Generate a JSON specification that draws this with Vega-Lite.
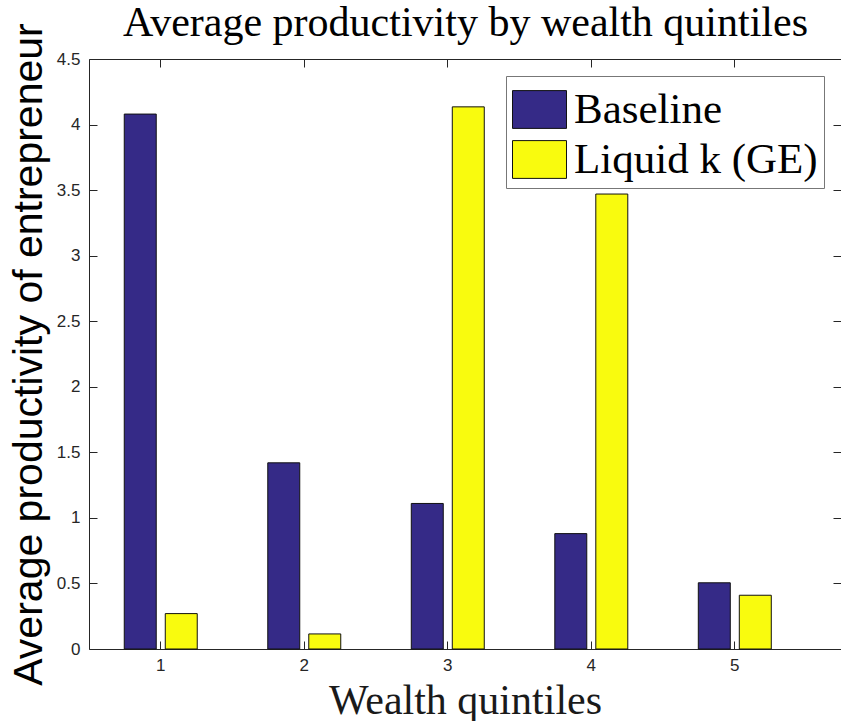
{
  "$schema": "https://vega.github.io/schema/vega-lite/v6.json",
  "width": 752,
  "height": 590,
  "autosize": {"type": "none"},
  "padding": {"left": 89, "top": 59, "right": 0, "bottom": 72},
  "background": "white",
  "data": {
    "values": [
      {"quintile": "1", "series": "Baseline", "value": 4.08},
      {"quintile": "1", "series": "Liquid k (GE)", "value": 0.27},
      {"quintile": "2", "series": "Baseline", "value": 1.42},
      {"quintile": "2", "series": "Liquid k (GE)", "value": 0.115},
      {"quintile": "3", "series": "Baseline", "value": 1.11},
      {"quintile": "3", "series": "Liquid k (GE)", "value": 4.135},
      {"quintile": "4", "series": "Baseline", "value": 0.88},
      {"quintile": "4", "series": "Liquid k (GE)", "value": 3.47},
      {"quintile": "5", "series": "Baseline", "value": 0.505},
      {"quintile": "5", "series": "Liquid k (GE)", "value": 0.41}
    ]
  },
  "config": {
    "view": {"stroke": null},
    "axis": {
      "grid": false,
      "domainColor": "#262626",
      "tickColor": "#262626",
      "tickSize": -8,
      "labelFont": "Liberation Sans",
      "labelFontSize": 17,
      "labelColor": "#262626",
      "titleFont": "Liberation Sans",
      "titleFontWeight": "normal",
      "titleColor": "#000000"
    }
  },
  "resolve": {"axis": {"x": "independent", "y": "independent"}},
  "layer": [
    {
      "mark": {"type": "bar", "stroke": "#111111", "strokeWidth": 1},
      "encoding": {
        "x": {
          "field": "quintile",
          "type": "ordinal",
          "scale": {"paddingInner": 0, "paddingOuter": 0.12, "align": 0},
          "axis": {
            "orient": "bottom",
            "labelAngle": 0,
            "labelPadding": 16,
            "title": "Wealth quintiles",
            "titleFont": "Liberation Serif",
            "titleFontSize": 42,
            "titleColor": "#1a1a1a",
            "titlePadding": 7
          }
        },
        "xOffset": {
          "field": "series",
          "type": "nominal",
          "scale": {"paddingInner": 0.22, "paddingOuter": 0.86}
        },
        "y": {
          "field": "value",
          "type": "quantitative",
          "scale": {"domain": [0, 4.5], "nice": false, "zero": true},
          "axis": {
            "orient": "left",
            "values": [0, 0.5, 1, 1.5, 2, 2.5, 3, 3.5, 4, 4.5],
            "format": "~g",
            "labelPadding": 17,
            "title": "Average productivity of entrepreneur",
            "titleFontSize": 41,
            "titlePadding": 6
          }
        },
        "color": {
          "field": "series",
          "type": "nominal",
          "scale": {"domain": ["Baseline", "Liquid k (GE)"], "range": ["#352a87", "#f9fb0e"]},
          "legend": {
            "title": null,
            "orient": "top-right",
            "offset": 17,
            "symbolType": "M-1,-0.7L1,-0.7L1,0.7L-1,0.7Z",
            "symbolSize": 2916,
            "symbolStrokeColor": "#111111",
            "symbolStrokeWidth": 1,
            "labelFont": "Liberation Serif",
            "labelFontSize": 43,
            "labelColor": "#000000",
            "labelOffset": 7,
            "rowPadding": 0,
            "padding": 6,
            "strokeColor": "#777777",
            "fillColor": "white",
            "labelLimit": 400
          }
        }
      }
    },
    {
      "mark": {"type": "bar", "opacity": 0},
      "encoding": {
        "x": {
          "field": "quintile",
          "type": "ordinal",
          "axis": {
            "orient": "top",
            "labels": false,
            "title": "Average productivity by wealth quintiles",
            "titleFont": "Liberation Serif",
            "titleFontSize": 42,
            "titleColor": "#000000",
            "titlePadding": 14
          }
        },
        "y": {
          "field": "value",
          "type": "quantitative",
          "axis": {
            "orient": "right",
            "labels": false,
            "title": null,
            "values": [0, 0.5, 1, 1.5, 2, 2.5, 3, 3.5, 4, 4.5]
          }
        }
      }
    }
  ]
}
